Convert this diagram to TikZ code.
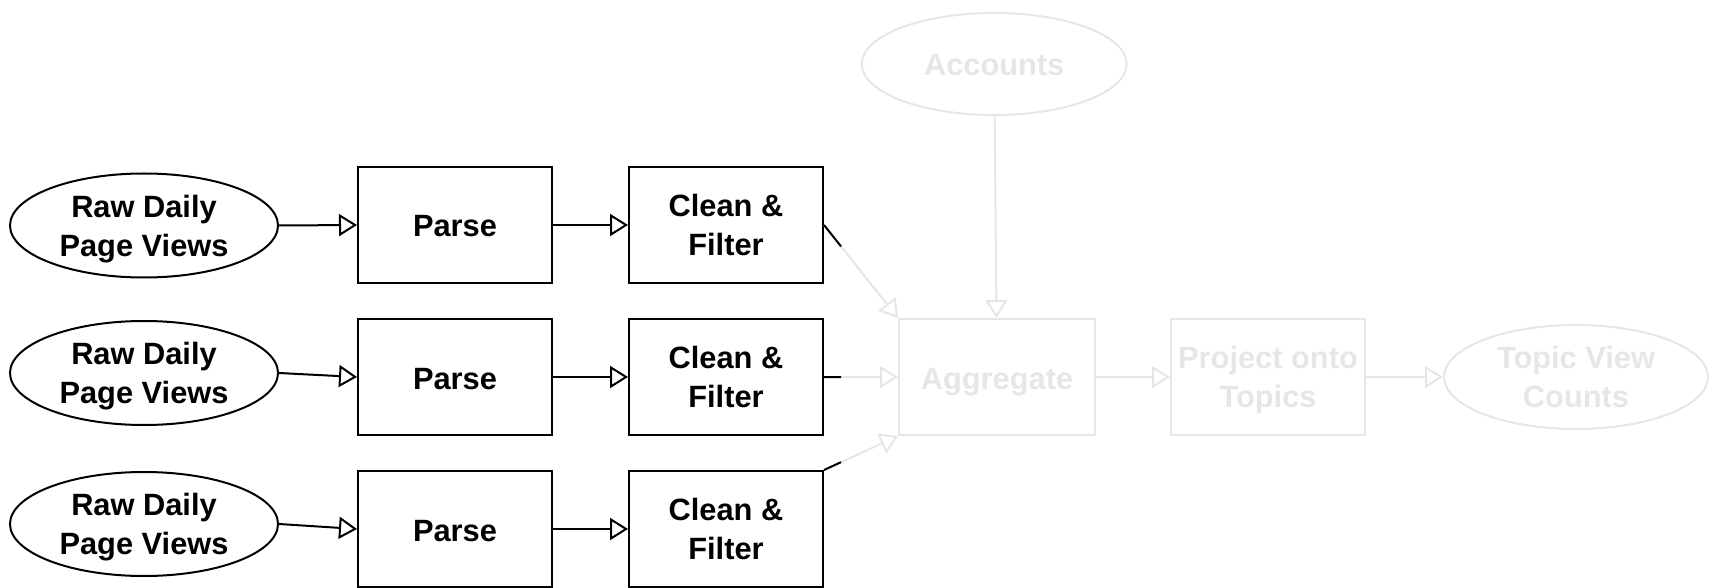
\documentclass[tikz,border=0pt]{standalone}
\usepackage{fontspec}
\setmainfont{Liberation Sans}
\usetikzlibrary{positioning,shapes.geometric,arrows.meta,calc}
\definecolor{fadegray}{HTML}{E6E6E6}

\begin{document}
\begin{tikzpicture}[
        font=\fontsize{15.4}{19.5}\selectfont\bfseries,
        every node/.append style={text depth=0pt, execute at begin node={\rule{0pt}{12pt}}},
        source/.style={ellipse, draw, line width=1pt, inner sep=0pt, minimum width=134pt, minimum height=52pt, align=center},
        stage/.style={rectangle, draw, line width=1pt, inner sep=0pt, minimum width=97pt, minimum height=58pt, align=center},
        faded/.style={draw=fadegray, text=fadegray},
        flow/.style={-{Triangle[open, length=9pt, width=11pt]}, line width=1pt},
        fadedflow/.style={flow, draw=fadegray}]
        \useasboundingbox (0,0) rectangle (856.5pt,-294pt);

        % NODES
        % -----------------

        % first row
        \node[source] (raw1) at (72pt,-112.75pt) {Raw Daily\\Page Views};
        \node[stage, right=39pt of raw1, yshift=+0.25pt] (parse1) {Parse};
        \node[stage, right=37.5pt of parse1] (clean1) {Clean \&\\Filter};

        % second row
        \node[stage, below=17pt of parse1] (parse2) {Parse};
        \node[stage, below=17pt of clean1] (clean2) {Clean \&\\Filter};
        \node[source, left=39pt of parse2, yshift=+2pt] (raw2) {Raw Daily\\Page Views};

        % third row
        \node[stage, below=17pt of parse2] (parse3) {Parse};
        \node[stage, below=17pt of clean2] (clean3) {Clean \&\\Filter};
        \node[source, left=39pt of parse3, yshift=+2.5pt] (raw3) {Raw Daily\\Page Views};

        % faded part
        \node[stage, faded, right=37pt of clean2, minimum width=98pt] (agg) {Aggregate};
        \node[source, faded, above=101pt of agg, xshift=-1.4pt, minimum width=132.5pt, minimum height=51pt] (accounts) {Accounts};
        \node[stage, faded, right=37pt of agg] (project) {Project onto\\Topics};
        \node[source, faded, right=38.5pt of project, minimum width=132pt] (topics) {Topic View\\Counts};

        % EDGES
        % -----------------
        \draw[flow] (raw1.east) -- (parse1.west);
        \draw[flow] (parse1) -- (clean1);
        \draw[flow] (raw2.east) -- (parse2.west);
        \draw[flow] (parse2) -- (clean2);
        \draw[flow] (raw3.east) -- (parse3.west);
        \draw[flow] (parse3) -- (clean3);

        \draw[fadedflow] (clean1.east) -- (agg.north west);
        \draw[fadedflow] (clean2.east) -- (agg.west);
        \draw[fadedflow] (clean3.north east) -- (agg.south west);
        \draw[fadedflow] (accounts) -- (agg);
        \draw[fadedflow] (agg) -- (project);
        \draw[fadedflow] (project.east) -- (topics.west);

        % black starts of the faded edges
        \draw[line width=1pt] (clean1.east) -- ($(clean1.east)!0.23!(agg.north west)$);
        \draw[line width=1pt] (clean2.east) -- ($(clean2.east)!0.23!(agg.west)$);
        \draw[line width=1pt] (clean3.north east) -- ($(clean3.north east)!0.23!(agg.south west)$);

    \end{tikzpicture}
\end{document}
